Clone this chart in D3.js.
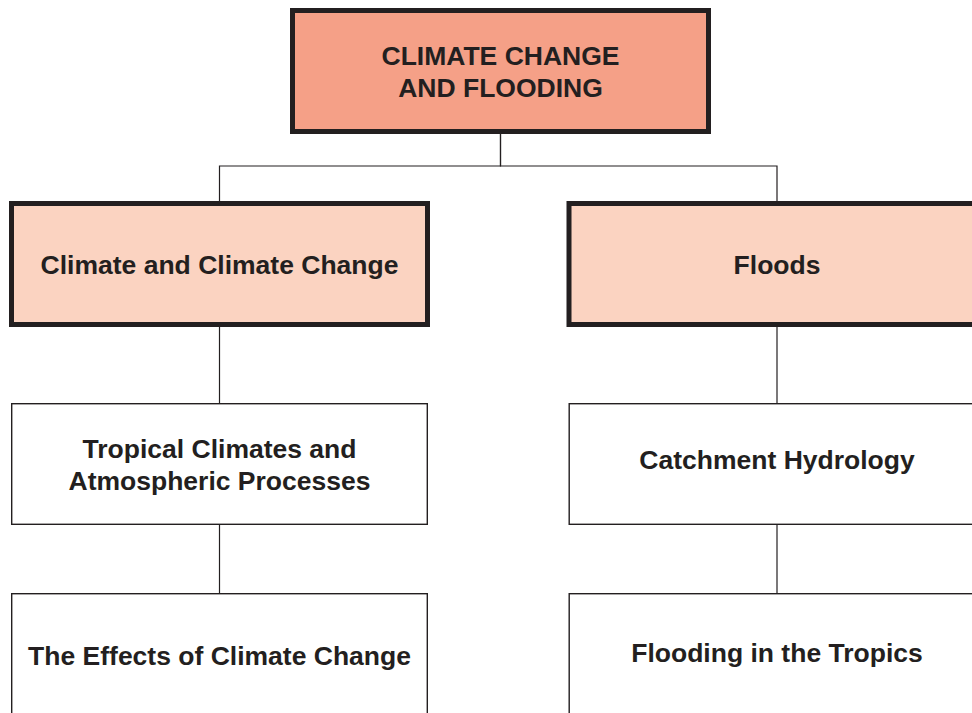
<!DOCTYPE html>
<html>
<head>
<meta charset="utf-8">
<script src="https://cdn.jsdelivr.net/npm/d3@7"></script>
<style>
  body { margin: 0; background: #fff; }
  svg { display: block; }
</style>
</head>
<body>
<svg id="chart" width="972" height="713"></svg>
<script>
// node data
const titles = [
  "CLIMATE CHANGE\nAND FLOODING",
  "Climate and Climate Change",
  "Floods",
  "Tropical Climates and\nAtmospheric Processes",
  "Catchment Hydrology",
  "The Effects of Climate Change",
  "Flooding in the Tropics"
];
const parents = [null, 0, 0, 1, 2, 3, 4];
const levels = [0, 1, 1, 2, 2, 3, 3];
const branches = ["center", "left", "right", "left", "right", "left", "right"];

const svg = d3.select("#chart"),
    ink = "#231f20";

// small vertical nudges of a few labels, as in the original layout
const nudge = { 4: -5, 5: 1.5, 6: -2 };

let nodes = titles.map(function(t, i) {
  return { id: i, parent: parents[i], label: t, level: levels[i], branch: branches[i] };
});

let root = d3.stratify()
    .id(function(d) { return d.id; })
    .parentId(function(d) { return d.parent; })(nodes);

let x = d3.scaleOrdinal()
    .domain(["left", "center", "right"])
    .range([219.5, 500.5, 777]);

// top edge of each row of boxes
let rowTop = d3.scaleOrdinal()
    .domain([0, 1, 2, 3])
    .range([8, 201, 403, 593]);

let boxH = d3.scaleOrdinal().domain([0, 1, 2, 3]).range([126, 126, 122, 122]),
    boxW = d3.scaleOrdinal().domain([0, 1, 2, 3]).range([421, 421, 417, 417]),
    stroke = d3.scaleOrdinal().domain([0, 1, 2, 3]).range([5, 5, 1.4, 1.4]),
    fill = d3.scaleOrdinal().domain([0, 1, 2, 3]).range(["#f5a087", "#fbd3c1", "#fff", "#fff"]);

// connectors
svg.append("g")
  .selectAll("path")
  .data(root.links())
  .enter().append("path")
    .attr("fill", "none")
    .attr("stroke", ink)
    .attr("stroke-width", 1.2)
    .attr("d", function(l) {
      let s = l.source.data, t = l.target.data,
          x0 = x(s.branch), y0 = rowTop(s.level) + boxH(s.level),
          x1 = x(t.branch), y1 = rowTop(t.level);
      if (x0 === x1) return "M" + x0 + "," + y0 + "V" + y1;
      let ym = 166;
      return "M" + x0 + "," + y0 + "V" + ym + "H" + x1 + "V" + y1;
    });

let box = svg.append("g")
  .selectAll("g")
  .data(root.descendants())
  .enter().append("g")
    .attr("transform", function(d) {
      return "translate(" + x(d.data.branch) + "," + (rowTop(d.data.level) + boxH(d.data.level) / 2) + ")";
    });

box.append("rect")
    .attr("x", function(d) { return -boxW(d.data.level) / 2 + stroke(d.data.level) / 2; })
    .attr("y", function(d) { return -boxH(d.data.level) / 2 + stroke(d.data.level) / 2; })
    .attr("width", function(d) { return boxW(d.data.level) - stroke(d.data.level); })
    .attr("height", function(d) { return boxH(d.data.level) - stroke(d.data.level); })
    .attr("fill", function(d) { return fill(d.data.level); })
    .attr("stroke", ink)
    .attr("stroke-width", function(d) { return stroke(d.data.level); });

box.append("text")
    .attr("text-anchor", "middle")
    .attr("font-family", "'Liberation Sans', Arial, sans-serif")
    .attr("font-weight", "bold")
    .attr("font-size", 26.5)
    .attr("fill", ink)
  .selectAll("tspan")
  .data(function(d) {
    let lines = d.data.label.split("\n"),
        off = nudge[d.data.id] || 0;
    return lines.map(function(s, i) { return { s: s, dy: (i - (lines.length - 1) / 2) * 32 + off }; });
  })
  .enter().append("tspan")
    .attr("x", 0)
    .attr("y", function(d) { return d.dy + 9.5; })
    .text(function(d) { return d.s; });
</script>
</body>
</html>
